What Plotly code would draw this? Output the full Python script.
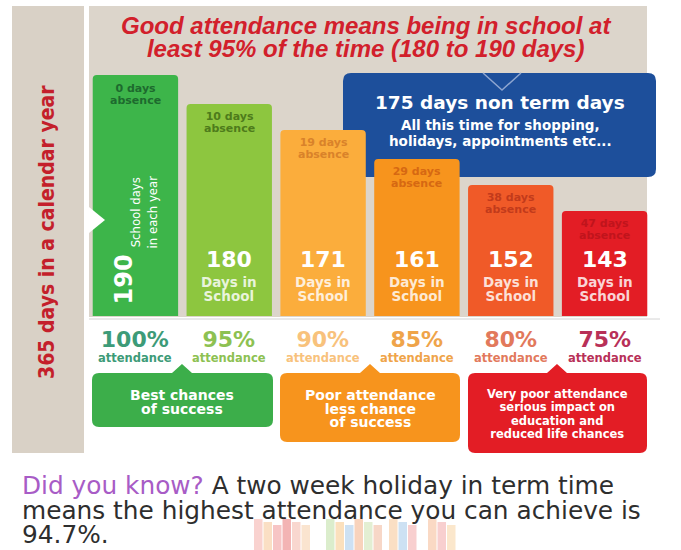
import plotly.graph_objects as go

# ---------------- data ----------------
attendance = ["100%", "95%", "90%", "85%", "80%", "75%"]
days_in_school = [190, 180, 171, 161, 152, 143]
days_absence = [0, 10, 19, 29, 38, 47]
bar_colors = ["#3db54a", "#8dc63f", "#fbad3c", "#f7941d", "#f05a28", "#e31d25"]
absence_colors = ["#1d6a2e", "#4e7b1b", "#d9822a", "#d66812", "#c23a1b", "#c0141c"]
pct_colors = ["#3d9b78", "#8dc152", "#f8c27c", "#efa44a", "#e2795c", "#b83058"]
callout_lines = [
    ["Best chances", "of success"],
    ["Poor attendance", "less chance", "of success"],
    ["Very poor attendance", "serious impact on", "education and", "reduced life chances"],
]
callout_colors = ["#3cae4a", "#f7941d", "#e31d25"]

W, H = 681, 550


def px(x):
    return x / W


def py(y):
    return 1 - y / H


def pt(x, y):
    return f"{px(x):.5f},{py(y):.5f}"


def rrect(x0, y0, x1, y1, r, notch=None, notch_w=10, notch_h=9):
    """Rounded rectangle path in pixel coordinates (y down). notch = x of a top pointer."""
    p = f"M{pt(x0 + r, y0)}"
    if notch is not None:
        p += f" L{pt(notch - notch_w, y0)} L{pt(notch, y0 - notch_h)} L{pt(notch + notch_w, y0)}"
    p += f" L{pt(x1 - r, y0)} Q{pt(x1, y0)} {pt(x1, y0 + r)}"
    p += f" L{pt(x1, y1 - r)} Q{pt(x1, y1)} {pt(x1 - r, y1)}"
    p += f" L{pt(x0 + r, y1)} Q{pt(x0, y1)} {pt(x0, y1 - r)}"
    p += f" L{pt(x0, y0 + r)} Q{pt(x0, y0)} {pt(x0 + r, y0)} Z"
    return p


def note(text, x, y, size, color, family="DejaVu Sans, sans-serif", xref="paper", yref="paper", **kw):
    d = dict(xref=xref, yref=yref, x=x, y=y, text=text, showarrow=False,
             font=dict(family=family, size=size, color=color),
             xanchor="center", yanchor="middle", align="center")
    d.update(kw)
    return d


def stacked(lines, size, bold=True):
    """Several lines at a given font size; line pitch set by the annotation's base size."""
    out = []
    for t in lines:
        t = f"<b>{t}</b>" if bold else t
        out.append(f"<span style='font-size:{size}px'>{t}</span>")
    return "<br>".join(out)


fig = go.Figure()
fig.add_trace(go.Bar(
    x=attendance, y=days_in_school,
    marker=dict(color=bar_colors, line=dict(width=0), cornerradius=4),
    width=0.91, hoverinfo="skip", showlegend=False,
))

shapes = []
# beige panels
shapes.append(dict(type="rect", xref="paper", yref="paper", x0=px(12), x1=px(84), y0=py(453), y1=py(6),
                   fillcolor="#d9d1c6", line=dict(width=0), layer="below"))
shapes.append(dict(type="rect", xref="paper", yref="paper", x0=px(89), x1=px(647), y0=py(317), y1=py(6),
                   fillcolor="#dcd5cb", line=dict(width=0), layer="below"))
# blue box
shapes.append(dict(type="path", xref="paper", yref="paper", path=rrect(343, 73, 656, 177, 8),
                   fillcolor="#1d4f9b", line=dict(width=0), layer="below"))
shapes.append(dict(type="path", xref="paper", yref="paper",
                   path=f"M{pt(483, 73)} L{pt(502, 90)} L{pt(521, 73)}",
                   line=dict(color="#8ea6d0", width=1.5), layer="below"))
# base line under bars
shapes.append(dict(type="line", xref="paper", yref="paper", x0=px(89), x1=px(660), y0=py(319), y1=py(319),
                   line=dict(color="#d4d4d4", width=1), layer="below"))
# white pointer into first bar
shapes.append(dict(type="path", xref="paper", yref="paper",
                   path=f"M{pt(89, 207)} L{pt(105, 220)} L{pt(89, 233)} Z",
                   fillcolor="white", line=dict(width=0), layer="above"))
# callout boxes
box_geo = [(92, 273, 427, 182), (280, 460, 442, 370), (468, 647, 453, 557)]
for (x0, x1, y1, nx), col in zip(box_geo, callout_colors):
    shapes.append(dict(type="path", xref="paper", yref="paper",
                       path=rrect(x0, 373, x1, y1, 7, notch=nx, notch_w=10, notch_h=9),
                       fillcolor=col, line=dict(width=0), layer="below"))

# faint thumbnails at bottom
thumbs = [
    (254, ["#f4a6a0", "#f6c08a", "#f08c8c", "#e86a6a", "#f3b0a0", "#f5c9a0"]),
    (326, ["#b8dc9a", "#f7c27c", "#9cc4e8", "#f2a77a", "#c8e0a8", "#f0b090"]),
    (389, ["#f6c08a", "#9cc4e8", "#f2a0a0"]),
    (428, ["#f6b48a", "#f2a0a0", "#f8cf9a"]),
]
for x0, cols in thumbs:
    for k, c in enumerate(cols):
        shapes.append(dict(type="rect", xref="paper", yref="paper",
                           x0=px(x0 + k * 9.5), x1=px(x0 + k * 9.5 + 8.5),
                           y0=py(550), y1=py(519 + (k % 3) * 3),
                           fillcolor=c, opacity=0.5, line=dict(width=0), layer="below"))

ann = []
title_font = "Liberation Sans, Arial, sans-serif"
ann.append(note("<i>" + stacked(["Good attendance means being in school at",
                                  "least 95% of the time (180 to 190 days)"], 24) + "</i>",
                px(366), py(37), 17.7, "#d2202b", family=title_font))
# side text
ann.append(note("<b>365 days in a calendar year</b>", px(47), py(232), 21, "#c41f2b",
                family="Liberation Sans Narrow, DejaVu Sans Condensed, sans-serif", textangle=-90))
# blue box text
ann.append(note("<b>175 days non term days</b>", px(500), py(103), 18.5, "white"))
ann.append(note(stacked(["All this time for shopping,", "holidays, appointments etc..."], 13.5),
                px(500), py(133), 12.3, "white"))

for i, (cat, v, a) in enumerate(zip(attendance, days_in_school, days_absence)):
    # absence label near bar top
    ann.append(note(stacked([f"{a} days", "absence"], 11), cat, v, 9.3, absence_colors[i],
                    xref="x", yref="y", yshift=-19))
    if i == 0:
        ann.append(note(f"<b>{v}</b>", cat, py(279), 24, "white", xref="x", xshift=-11, textangle=-90))
        ann.append(note("School days<br>in each year", cat, py(212), 13, "white", xref="x", xshift=9,
                        textangle=-90,
                        family="Liberation Sans Narrow, DejaVu Sans Condensed, sans-serif"))
    else:
        ann.append(note(f"<b>{v}</b>", cat, py(260), 22, "white", xref="x"))
        ann.append(note(stacked(["Days in", "School"], 13.5), cat, py(289), 10.8,
                        "rgba(255,255,255,0.82)", xref="x"))
    # attendance labels below
    ann.append(note(f"<span style='font-size:22px'><b>{cat}</b></span><br><b>attendance</b>",
                    cat, py(346), 11.5, pct_colors[i], xref="x"))

# callout texts
line_mid = [401.5, 408.5, 413.5]
line_size = [14, 14, 11.5]
line_base = [10.4, 10.4, 10.2]
for (x0, x1, y1, nx), lines, ym, fs, fb in zip(box_geo, callout_lines, line_mid, line_size, line_base):
    ann.append(note(stacked(lines, fs), px((x0 + x1) / 2), py(ym), fb, "white"))

# bottom text
bottom_lines = [
    '<span style="color:#a85cc6">Did you know?</span> A two week holiday in term time',
    "means the highest attendance you can achieve is",
    "94.7%.",
]
ann.append(note(stacked(bottom_lines, 24.8, bold=False), px(20), py(510), 19, "#2e2e2e",
                xanchor="left", align="left"))

fig.update_layout(
    width=W, height=H, autosize=False,
    margin=dict(l=0, r=0, t=0, b=0),
    paper_bgcolor="white", plot_bgcolor="rgba(0,0,0,0)",
    xaxis=dict(domain=[88.5 / W, 651.5 / W], range=[-0.5, 5.5], visible=False, fixedrange=True),
    yaxis=dict(domain=[py(316), py(5)], range=[106.7, 214.2], visible=False, fixedrange=True),
    shapes=shapes, annotations=ann, bargap=0.09,
)

fig.write_html("out.html", config={"displayModeBar": False},
               post_script="document.body.style.margin='0px';")
